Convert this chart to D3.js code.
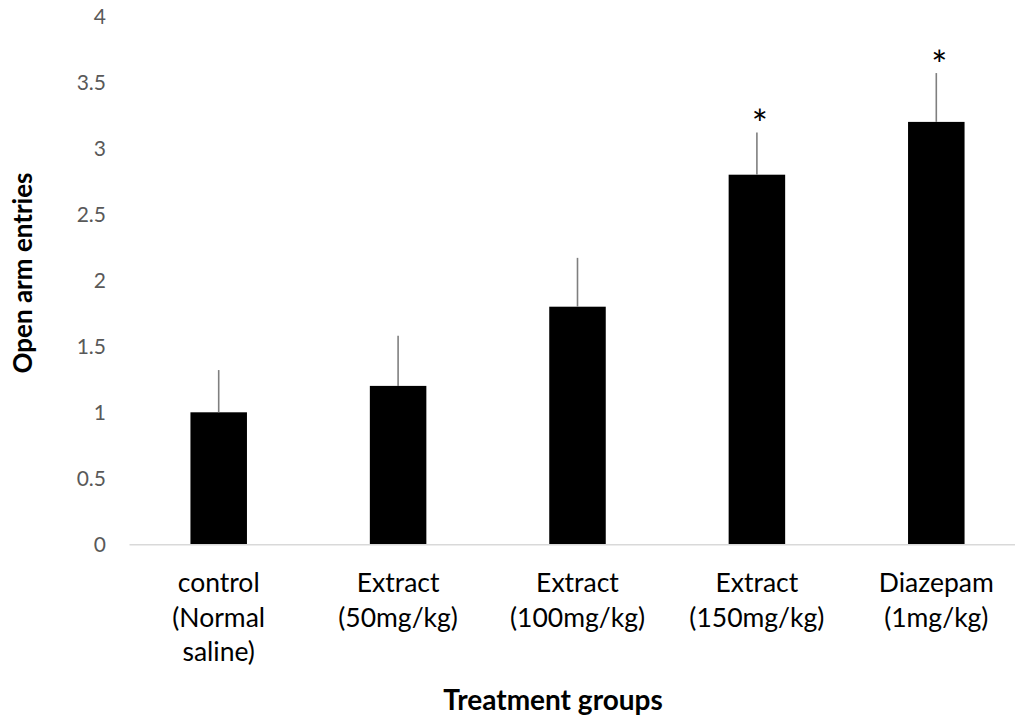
<!DOCTYPE html>
<html>
<head>
<meta charset="utf-8">
<script src="https://cdn.jsdelivr.net/npm/d3@7"></script>
<style>
  html, body { margin: 0; padding: 0; background: #fff; }
  svg { display: block; }
</style>
</head>
<body>
<svg id="chart" width="1015" height="717"></svg>
<script>
// Group labels (one entry per line of the wrapped category label)
const groups = [
  ["control", "(Normal", "saline)"],
  ["Extract", "(50mg/kg)"],
  ["Extract", "(100mg/kg)"],
  ["Extract", "(150mg/kg)"],
  ["Diazepam", "(1mg/kg)"]
];
// Mean open arm entries per group
const means = [1.0, 1.2, 1.8, 2.8, 3.2];
// Upper error (SEM) per group
const errors = [0.32, 0.38, 0.37, 0.32, 0.37];
// Significance markers
const marks = ["", "", "", "*", "*"];
// Y axis ticks
const yTicks = [0, 0.5, 1, 1.5, 2, 2.5, 3, 3.5, 4];

const FONT = "Lato, 'Open Sans', sans-serif";
const svg = d3.select("#chart");

const keys = groups.map((g, i) => "g" + i);
const x = d3.scaleBand()
  .domain(keys)
  .range([129, 1026])
  .paddingInner(0.685)
  .paddingOuter(0.3425);
const cx = i => x(keys[i]) + x.bandwidth() / 2;

const y = d3.scaleLinear().domain([0, 4]).range([544.3, 16.3]);

// Y tick labels (no axis line, no tick marks)
const yAxis = d3.axisLeft(y).tickValues(yTicks).tickSize(0).tickPadding(0)
  .tickFormat(d3.format("~g"));
const gy = svg.append("g").attr("transform", "translate(106,0)").call(yAxis);
gy.select(".domain").remove();
gy.selectAll("text")
  .attr("font-family", FONT)
  .attr("font-size", 21)
  .attr("fill", "#595959");

// Bars
svg.append("g").selectAll("rect")
  .data(means)
  .join("rect")
  .attr("x", (d, i) => x(keys[i]))
  .attr("width", x.bandwidth())
  .attr("y", d => y(d))
  .attr("height", d => y(0) - y(d))
  .attr("fill", "#000");

// Error bars (upper only)
svg.append("g").selectAll("line")
  .data(means)
  .join("line")
  .attr("x1", (d, i) => cx(i))
  .attr("x2", (d, i) => cx(i))
  .attr("y1", d => y(d))
  .attr("y2", (d, i) => y(d + errors[i]))
  .attr("stroke", "#7f7f7f")
  .attr("stroke-width", 1.6);

// Significance asterisks, centred a little above each error bar cap
svg.append("g").selectAll("text")
  .data(means)
  .join("text")
  .attr("x", (d, i) => cx(i) + 3)
  .attr("y", (d, i) => y(d + errors[i]))
  .attr("text-anchor", "middle")
  .attr("font-family", FONT)
  .attr("font-size", 38)
  .attr("fill", "#000")
  .text((d, i) => marks[i])
  .each(function (d, i) {
    if (!marks[i]) return;
    const b = this.getBBox();
    const target = y(d + errors[i]) - 16;
    // glyph ink sits in the upper part of the em box; shift so its middle hits the target
    const inkMid = b.y + b.height * 0.36;
    d3.select(this).attr("y", +d3.select(this).attr("y") + (target - inkMid));
  });

// X axis baseline
const xAxis = d3.axisBottom(x).tickSize(0).tickFormat("");
const gx = svg.append("g").attr("transform", `translate(0,${y(0)})`).call(xAxis);
gx.select(".domain").attr("stroke", "#d9d9d9").attr("stroke-width", 1.5);

// Category labels
const lab = svg.append("g").selectAll("text")
  .data(groups)
  .join("text")
  .attr("text-anchor", "middle")
  .attr("font-family", FONT)
  .attr("font-size", 26.5)
  .attr("fill", "#000");
lab.each(function (lines, i) {
  const t = d3.select(this);
  lines.forEach((ln, j) => {
    t.append("tspan")
      .attr("x", cx(i))
      .attr("y", 592 + j * 34.7)
      .text(ln);
  });
});

// Axis titles
svg.append("text")
  .attr("x", 553).attr("y", 710)
  .attr("text-anchor", "middle")
  .attr("font-family", FONT)
  .attr("font-weight", "bold")
  .attr("font-size", 28)
  .attr("fill", "#000")
  .text("Treatment groups");

svg.append("text")
  .attr("transform", "translate(32,273) rotate(-90)")
  .attr("text-anchor", "middle")
  .attr("font-family", FONT)
  .attr("font-weight", "bold")
  .attr("font-size", 26)
  .attr("fill", "#000")
  .text("Open arm entries");
</script>
</body>
</html>
